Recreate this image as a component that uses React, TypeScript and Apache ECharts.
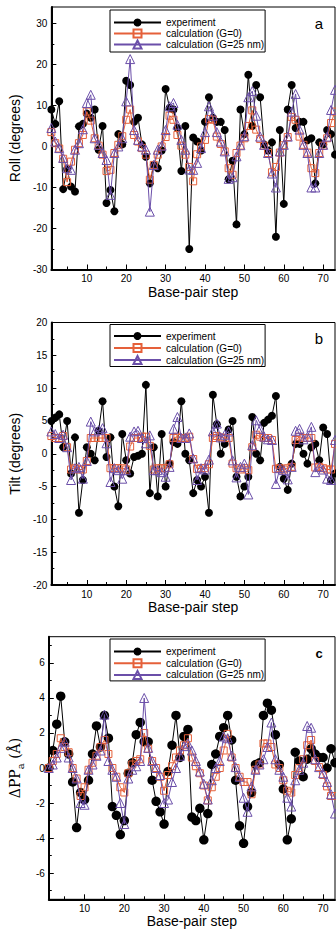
import React, { useEffect, useRef } from 'react';
import * as echarts from 'echarts';

const steps = [1,2,3,4,5,6,7,8,9,10,11,12,13,14,15,16,17,18,19,20,21,22,23,24,25,26,27,28,29,30,31,32,33,34,35,36,37,38,39,40,41,42,43,44,45,46,47,48,49,50,51,52,53,54,55,56,57,58,59,60,61,62,63,64,65,66,67,68,69,70,71,72,73];

const seriesNames = ['experiment', 'calculation (G=0)', 'calculation (G=25 nm)'];

// Panel a: Roll (degrees)
const rollExp = [9,5.5,11,-10.4,-5.5,-9.8,-11,4.9,5.5,8, 7,9,-0.8,5,-13.8,-10.6,-15.8,3,0.5,16, 15,6,7,0.5,-2.5,-9,-4.5,-5.3,-1,14, 9.4,9,4.5,-6,5,-25,2.2,1.2,-1,6, 12,7,6,6,4,-8,-3.5,-19,9,3, 17.5,5,15,12,0.5,-1,1,-22,4,-14, 9,15,4.5,6,6,1.5,2,-9,1,0.5, 4,3,-2];
const rollG0 = [3.5,0.8,-0.5,-3,-8.7,-3.7,-0.8,0.8,2.8,8.5, 6.3,2,0.2,-2,-6,-5.7,-1.6,0.4,2.5,6.5, 9,2.8,1.2,-0.4,-2,-8.1,-4.5,-2,0,2.3, 7.5,6.5,2.8,0.2,-2,-5,-8.5,-1.9,0,1.6, 6.7,6.5,2.4,0.6,-1.2,-5.3,-6.9,-1.6,0.2,2, 5,8.8,4.1,1.8,0.2,-1.6,-6.3,-5,-1.5,0.3, 2.3,7.2,6.5,2.4,0.4,-1.5,-5.3,-6.5,-1.6,0.2, 2,5.7,8.5];
const rollG25 = [4.5,1.2,-0.4,-2.8,-5.3,-5.7,-0.8,0.8,4.2,10.6, 12.6,2,0.4,-1.6,-3.3,-11.8,-1.6,0,2,11, 21.3,4,1.6,0,-0.8,-15.9,-4.5,-0.8,0.2,4, 9.8,10.6,5.3,1.6,-0.8,-5.6,-5.7,-4,-0.4,3.5, 9.8,7.5,3.5,1.2,-1.2,-7.9,-7.5,-2.4,0.3,2.5, 12,13.5,7.5,2.4,0.4,-1.6,-6.6,-10,-1.2,0.4, 2.4,8.5,12.8,4.1,0.4,-1.6,-10,-10,-1.6,0.4, 2.4,8.9,13.8];

// Panel b: Tilt (degrees)
const tiltExp = [5,5.5,6,1,5,-3,2.5,-9,-4,1, 0,-1,3.5,8,-0.5,2.5,-5,-8,3,-1, -3,-0.5,-0.3,0,10.5,-6,1,-6.5,3,-5, -1.5,1.8,1.5,8,0,-1,-6,-4,-5,-3.5, -9,9,4.5,0,1.5,3.7,5,-3.5,-6.5,-5, -3.5,5.6,0,-1,4.7,5.2,5.8,8.8,-2,-3.8, -5.5,-1.5,1.5,1.5,0,-1.5,1,1.5,-1,4, 3,-4,-3];
const tiltG0 = [2.7,2.4,2.4,2.7,1,-2.4,-2.2,-2.4,-2.4,-1.1, 2.4,2.4,2.4,2.4,2.4,-2.2,-2.2,-2.2,-2.2,-2.4, 1.1,2.4,2.4,2.6,2.6,1.2,-2.4,-2.2,-2.2,-2.2, -1.6,2.4,2.6,2.4,2.4,2.6,-0.8,-2.3,-2.2,-2.2, -1.6,2.4,2.7,2.5,2.4,2.4,-1.5,-2.2,-2.4,-2.2, -2.5,1,2.9,2.6,2.4,2.4,2.1,-2.3,-2.2,-2.4, -2.2,-2,2.1,2.6,2.4,2.4,2.4,-2.1,-2,-2.2, -2.4,-2.4,1.5];
const tiltG25 = [3.4,3,2.4,2.9,1,-4,-2.2,-2,-3.8,-1.1, 4.9,3.4,3.6,3.9,1.6,-4.3,-2.2,-2.5,-3.8,-2.5, 2.6,3.4,3.5,2.4,1.6,2.8,-2.5,-2.5,-2.8,-3.5, -2,3.8,5.6,2.4,2.4,3.1,-0.7,-4,-2.2,-2.4, -0.9,3.4,4.6,2.5,2.9,3.4,-1,-3.6,-2,-1.5, -6.2,1.3,5.1,3.8,2.6,2.2,2.1,-4.6,-2.2,-2.5, -3.9,-2,3.5,3.8,2.2,2.6,4.1,-2.8,-2,-2.4, -3.8,-4,2.1];

// Panel c: ΔPPa (Å)
const ppaExp = [0,1,2.5,4.1,1.5,0.8,-0.8,-3.4,-1.4,-1.8, -0.7,0.8,2.4,1.2,3,1.7,-2.2,-2.7,-3.8,-3, -0.3,0.3,1.9,2.6,1.5,1.5,-0.7,-1.9,-2.5,-3.2, -0.2,1.3,3,0.6,1.8,2.2,-2.8,-3,-2.3,-4.1, -2.6,0.2,0.8,1.8,2.3,3,1.6,-0.7,-3.3,-4.3, -2.2,-1.4,0.2,0.3,3,3.7,3.3,1.9,0.2,-1.2, -4.1,-2.9,0.9,0.4,-0.5,0.5,1.1,0.8,0.6,0.6, 0,1.1,0.3];
const ppaG0 = [0,0.4,0.8,1.7,1.2,0.9,0,-0.6,-1.6,-1.1, -0.1,0.3,0.7,1.2,1.6,0.8,0,-0.5,-1.1,-1.4, -0.3,0.2,0.4,0.5,2,1.1,0.4,0,-0.5,-1.3, -0.4,0.1,0.6,1,1.3,1.7,0.6,0.1,-0.3,-1, -1.85,-1.1,-0.5,0,1,1.95,0.6,0,-0.5,-0.8, -0.8,-1.5,-0.1,0.2,1.4,1.4,1.2,0.2,0,-0.7, -1.3,-1.4,-0.4,0,0.5,1.3,1.6,0.4,0.05,-0.4, -1.05,-1.6,-1.6];
const ppaG25 = [0,0.2,0.6,1.15,1.5,0.6,0,-0.6,-2,-2.1, -0.1,0.2,0.7,1,3.05,0.4,-0.1,-0.5,-2,-3.2, -0.6,-0.1,0.1,0.4,4,1.15,0.4,0,-0.4,-2, -1.8,-0.8,0,0.7,1.25,1.4,1,0.4,-0.2,-0.9, -1.8,-0.7,0,0.4,1.8,1.7,0.7,0.05,-0.5,-1.7, -2.5,-1.05,-0.1,0.2,0.5,1.2,2.6,0.5,-0.1,-0.5, -1.7,-2.2,-0.7,-0.1,0.3,2.4,2.3,0.5,0.05,-0.3, -0.8,-1.5,-2.6];

// Tick values
const xMajorTicks = [10, 20, 30, 40, 50, 60, 70];
const xMinorTicks = [5, 15, 25, 35, 45, 55, 65];
const rollMajorTicks = [-30, -20, -10, 0, 10, 20, 30];
const rollMinorTicks = [-25, -15, -5, 5, 15, 25];
const tiltMajorTicks = [-20, -15, -10, -5, 0, 5, 10, 15, 20];
const tiltMinorTicks = [-17.5, -12.5, -7.5, -2.5, 2.5, 7.5, 12.5, 17.5];
const ppaMajorTicks = [-6, -4, -2, 0, 2, 4, 6];
const ppaMinorTicks = [-7, -5, -3, -1, 1, 3, 5, 7];

const SANS = "'Liberation Sans', Arial, Helvetica, sans-serif";
const SERIF = "'DejaVu Serif', 'Liberation Serif', serif";
const ORANGE = '#e5603a';
const PURPLE = '#6b4fa9';

const panels = [
  { top: 7, height: 262.5, min: -30, max: 34, major: rollMajorTicks, minor: rollMinorTicks,
    name: 'Roll (degrees)', exp: rollExp, g0: rollG0, g25: rollG25, label: 'a', labelY: 23.2, labelBold: false,
    legendTop: 10, legendPad: [7.5, 1, 2.5, 3], legendGap: 1, circle: 8 },
  { top: 322.5, height: 262.5, min: -20, max: 20, major: tiltMajorTicks, minor: tiltMinorTicks,
    name: 'Tilt (degrees)', exp: tiltExp, g0: tiltG0, g25: tiltG25, label: 'b', labelY: 338.2, labelBold: false,
    legendTop: 324.5, legendPad: [6.5, 1, 1.5, 3], legendGap: 2, circle: 8 },
  { top: 636.7, height: 262.6, min: -7.5, max: 7.5, major: ppaMajorTicks, minor: ppaMinorTicks,
    name: '{m|ΔPP}{s|a}{m| (Å)}', exp: ppaExp, g0: ppaG0, g25: ppaG25, label: 'c', labelY: 653, labelBold: true,
    legendTop: 639, legendPad: [7.5, 1, 1, 3], legendGap: 1.7, circle: 9.5 },
];

function buildOption() {
  const grid: any[] = [];
  const xAxis: any[] = [];
  const yAxis: any[] = [];
  const series: any[] = [];
  const legend: any[] = [];
  const graphic: any[] = [];

  panels.forEach((p, i) => {
    grid.push({ left: 48, top: p.top, width: 287, height: p.height, show: true, borderColor: '#000', borderWidth: 1, containLabel: false });

    xAxis.push({
      type: 'value', gridIndex: i, min: 1, max: 73, position: 'bottom',
      axisLine: { show: true, onZero: false, lineStyle: { color: '#000', width: 2 } },
      axisTick: { show: true, inside: true, length: 5, customValues: xMajorTicks, lineStyle: { color: '#000', width: 1 } },
      axisLabel: { show: true, customValues: xMajorTicks, margin: 4, color: '#000', fontSize: 10, fontFamily: SANS },
      splitLine: { show: false },
      name: 'Base-pair step', nameLocation: 'middle', nameGap: 15,
      nameTextStyle: { fontSize: 14, color: '#000', fontFamily: SANS },
    });
    xAxis.push({
      type: 'value', gridIndex: i, min: 1, max: 73, position: 'bottom',
      axisLine: { show: false, onZero: false },
      axisTick: { show: true, inside: true, length: 3, customValues: xMinorTicks, lineStyle: { color: '#000', width: 1 } },
      axisLabel: { show: false },
      splitLine: { show: false },
    });

    const yName: any = {
      name: p.name, nameLocation: 'middle', nameRotate: 90,
      nameGap: i === 2 ? 19 : 24,
      nameTextStyle: i === 2
        ? { color: '#000', fontFamily: SERIF, fontSize: 14,
            rich: {
              m: { fontFamily: SERIF, fontSize: 14, color: '#000', lineHeight: 20, verticalAlign: 'middle' },
              s: { fontFamily: SERIF, fontSize: 10, color: '#000', lineHeight: 12, verticalAlign: 'bottom' },
            } }
        : { color: '#000', fontFamily: SANS, fontSize: 14 },
    };
    yAxis.push({
      type: 'value', gridIndex: i, min: p.min, max: p.max, position: 'left',
      axisLine: { show: true, onZero: false, lineStyle: { color: '#000', width: 2 } },
      axisTick: { show: true, inside: true, length: 5, customValues: p.major, lineStyle: { color: '#000', width: 1 } },
      axisLabel: { show: true, customValues: p.major, margin: 4, color: '#000', fontSize: 10, fontFamily: SANS },
      splitLine: { show: false },
      ...yName,
    });
    yAxis.push({
      type: 'value', gridIndex: i, min: p.min, max: p.max, position: 'left',
      axisLine: { show: false, onZero: false },
      axisTick: { show: true, inside: true, length: 3, customValues: p.minor, lineStyle: { color: '#000', width: 1 } },
      axisLabel: { show: false },
      splitLine: { show: false },
    });

    const xi = i * 2;
    const yi = i * 2;
    series.push({
      type: 'line', name: seriesNames[0], xAxisIndex: xi, yAxisIndex: yi,
      data: steps.map((s, k) => [s, p.exp[k]]),
      symbol: 'circle', symbolSize: p.circle,
      itemStyle: { color: '#000' },
      lineStyle: { color: '#000', width: 1 },
      z: 2,
    });
    series.push({
      type: 'line', name: seriesNames[1], xAxisIndex: xi, yAxisIndex: yi,
      data: steps.map((s, k) => [s, p.g0[k]]),
      symbol: 'rect', symbolSize: 7,
      itemStyle: { color: 'rgba(255,255,255,0)', borderColor: ORANGE, borderWidth: 1 },
      lineStyle: { color: ORANGE, width: 1 },
      z: 3,
    });
    series.push({
      type: 'line', name: seriesNames[2], xAxisIndex: xi, yAxisIndex: yi,
      data: steps.map((s, k) => [s, p.g25[k]]),
      symbol: 'triangle', symbolSize: 9,
      itemStyle: { color: 'rgba(255,255,255,0)', borderColor: PURPLE, borderWidth: 1 },
      lineStyle: { color: PURPLE, width: 1 },
      z: 4,
    });

    legend.push({
      data: seriesNames, orient: 'vertical', left: 110, top: p.legendTop,
      itemWidth: 47, itemHeight: 10, itemGap: p.legendGap, padding: p.legendPad,
      borderColor: '#000', borderWidth: 1, backgroundColor: '#fff',
      selectedMode: false,
      textStyle: { fontSize: 10, fontWeight: 'normal', color: '#000', fontFamily: SANS },
    });

    graphic.push({
      type: 'text', x: 319, y: p.labelY, z: 10,
      style: { text: p.label, fill: '#000', font: `${p.labelBold ? 'bold 13px' : '15px'} ${SANS}`, align: 'center', verticalAlign: 'middle' },
    });
  });

  return {
    animation: false,
    backgroundColor: '#fff',
    grid, xAxis, yAxis, series, legend, graphic,
  };
}

export default function App() {
  const ref = useRef<HTMLDivElement>(null);
  useEffect(() => {
    if (!ref.current) return;
    const chart = echarts.init(ref.current, null, { renderer: 'svg' });
    chart.setOption(buildOption() as any);
    return () => chart.dispose();
  }, []);
  return <div ref={ref} style={{ position: 'absolute', left: 0, top: 0, width: 336, height: 931, background: '#fff' }} />;
}
